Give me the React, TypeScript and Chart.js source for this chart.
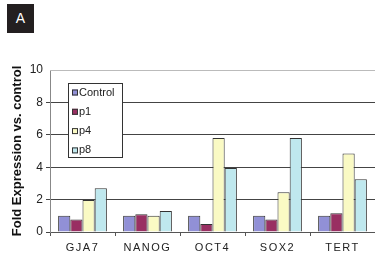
import React, { useEffect, useRef } from "react";
import { Chart, registerables } from "chart.js";

Chart.register(...registerables);

const categories = ["GJA7", "NANOG", "OCT4", "SOX2", "TERT"];
const seriesNames = ["Control", "p1", "p4", "p8"];
const controlValues = [1.0, 1.0, 1.0, 1.0, 1.0];
const p1Values = [0.77, 1.1, 0.5, 0.77, 1.15];
const p4Values = [1.97, 1.0, 5.8, 2.45, 4.85];
const p8Values = [2.7, 1.3, 3.95, 5.8, 3.25];
const seriesColors = ["#9190d6", "#992f62", "#fafac4", "#bfe8ee"];
const yTicks = [0, 2, 4, 6, 8, 10];

const FONT = "'Liberation Sans', Arial, sans-serif";

const boxLegend = {
  id: "boxLegend",
  afterDatasetsDraw(chart: any) {
    const { ctx, chartArea } = chart;
    const x = chartArea.left + 18;
    const y = chartArea.top + 13;
    const w = 55;
    const h = 75;
    ctx.save();
    ctx.fillStyle = "#ffffff";
    ctx.fillRect(x, y, w, h);
    ctx.strokeStyle = "#333333";
    ctx.lineWidth = 1;
    ctx.strokeRect(x + 0.5, y + 0.5, w - 1, h - 1);
    ctx.font = "11px " + FONT;
    ctx.textBaseline = "middle";
    chart.data.datasets.forEach((ds: any, i: number) => {
      const cy = y + 9.5 + i * 19.3;
      ctx.fillStyle = ds.backgroundColor;
      ctx.fillRect(x + 4, cy - 3, 6, 6);
      ctx.strokeStyle = "#333333";
      ctx.strokeRect(x + 4.5, cy - 2.5, 5, 5);
      ctx.fillStyle = "#222222";
      ctx.fillText(ds.label, x + 11, cy);
    });
    ctx.restore();
  },
};

const topBorder = {
  id: "topBorder",
  beforeDatasetsDraw(chart: any) {
    const { ctx, chartArea } = chart;
    ctx.save();
    ctx.strokeStyle = "#bbbbbb";
    ctx.lineWidth = 1;
    ctx.beginPath();
    ctx.moveTo(chartArea.left, chartArea.top + 0.5);
    ctx.lineTo(chartArea.right, chartArea.top + 0.5);
    ctx.stroke();
    ctx.restore();
  },
};

const spacedXLabels = {
  id: "spacedXLabels",
  afterUpdate(chart: any) {
    const xs = chart.scales.x;
    if (xs && !xs.__spaced) {
      const orig = xs.drawLabels.bind(xs);
      xs.drawLabels = (area: any) => {
        const ctx = chart.ctx;
        const prev = ctx.letterSpacing;
        ctx.letterSpacing = "1.5px";
        orig(area);
        ctx.letterSpacing = prev || "0px";
      };
      xs.__spaced = true;
    }
  },
};

export default function App() {
  const ref = useRef<HTMLCanvasElement>(null);
  useEffect(() => {
    document.body.style.margin = "0";
    const values = [controlValues, p1Values, p4Values, p8Values];
    const chart = new Chart(ref.current!, {
      type: "bar",
      data: {
        labels: categories,
        datasets: seriesNames.map((name, i) => ({
          label: name,
          data: values[i],
          backgroundColor: seriesColors[i],
          borderColor: "#333333",
          borderWidth: 1,
          categoryPercentage: 0.75,
          barPercentage: 1.0,
        })),
      },
      options: {
        animation: false,
        responsive: false,
        maintainAspectRatio: false,
        layout: { padding: { top: 70, right: 0, left: 0, bottom: 0 } },
        plugins: {
          legend: { display: false },
          tooltip: { enabled: false },
        },
        scales: {
          x: {
            grid: {
              offset: true,
              drawOnChartArea: false,
              drawTicks: true,
              tickLength: 4,
              color: "#555555",
            },
            border: { color: "#555555", width: 1 },
            ticks: {
              color: "#222222",
              font: { family: FONT, size: 11 },
              padding: 5,
            },
            afterFit(scale: any) {
              scale.height = 25;
              scale.paddingLeft = 0;
              scale.paddingRight = 0;
            },
          },
          y: {
            min: 0,
            max: 10,
            afterBuildTicks(scale: any) {
              scale.ticks = yTicks.map((v) => ({ value: v }));
            },
            grid: {
              color: (c: any) => (c.tick && c.tick.value === 10 ? "rgba(0,0,0,0)" : "#444444"),
              lineWidth: 1,
              tickLength: 4,
              drawTicks: true,
            },
            border: { color: "#888888", width: 1 },
            ticks: {
              color: "#222222",
              font: { family: FONT, size: 12 },
              padding: 3,
            },
            title: {
              display: true,
              text: "Fold Expression vs. control",
              color: "#111111",
              font: { family: FONT, size: 13, weight: "bold" },
              padding: { top: 10, bottom: 0 },
            },
            afterFit(scale: any) {
              scale.width = 50;
              scale.paddingTop = 0;
              scale.paddingBottom = 0;
            },
          },
        },
      },
      plugins: [topBorder, boxLegend, spacedXLabels],
    });
    return () => chart.destroy();
  }, []);
  return (
    <div style={{ position: "relative", width: 375, height: 257, background: "#fff" }}>
      <div
        style={{
          position: "absolute",
          left: 7,
          top: 4,
          width: 27,
          height: 29,
          background: "#231f20",
          color: "#fff",
          fontFamily: FONT,
          fontSize: 14,
          lineHeight: "29px",
          textAlign: "center",
        }}
      >
        A
      </div>
      <canvas ref={ref} width={375} height={257} style={{ display: "block" }} />
    </div>
  );
}
